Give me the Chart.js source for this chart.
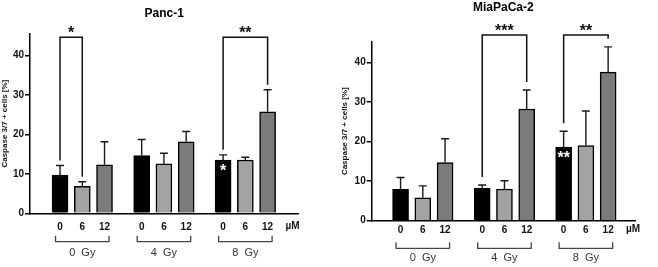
<!DOCTYPE html>
<html>
<head>
<meta charset="utf-8">
<script src="https://cdn.jsdelivr.net/npm/chart.js@4.4.1/dist/chart.umd.min.js"></script>
<style>
  html, body { margin: 0; padding: 0; background: #fff; }
  #wrap { width: 658px; height: 267px; display: flex; }
  canvas { display: block; }
</style>
</head>
<body>
<div id="wrap">
  <canvas id="panc1" width="329" height="267"></canvas>
  <canvas id="mia" width="329" height="267"></canvas>
</div>
<script>
var FONT = '"Liberation Sans", Arial, Helvetica, sans-serif';

// categories
var groups = ['0  Gy', '4  Gy', '8  Gy'];
var doses = ['0', '6', '12'];
var xPos = [0, 1, 2, 3.67, 4.67, 5.67, 7.33, 8.33, 9.33];
var yTicks = [0, 10, 20, 30, 40];

// Panc-1 (mean, SD) in group order 0/6/12 per Gy
var panc1Mean = [9.7, 6.8, 12.3, 14.6, 12.5, 18.1, 13.5, 13.5, 25.7];
var panc1Sd = [2.4, 1.2, 5.8, 4.1, 2.7, 2.6, 1.3, 0.7, 5.6];

// MiaPaCa-2
var miaMean = [7.9, 5.8, 14.7, 8.2, 8.0, 28.2, 18.6, 19.0, 37.5];
var miaSd = [3.0, 3.0, 6.0, 0.8, 2.1, 4.8, 4.0, 8.7, 6.4];

// significance: [from bar, to bar, label]
var panc1Sig = [[0, 1, '*'], [6, 8, '**']];
var miaSig = [[3, 5, '***'], [6, 8, '**']];
var panc1Inner = [[6, '*']];
var miaInner = [[6, '**']];

var barColors = ['#000000', '#a3a3a3', '#7b7b7b'];

var sigPlugin = {
    id: 'sigMarks',
    afterDatasetsDraw: function (chart, args, o) {
        var ctx = chart.ctx, xs = chart.scales.x, ys = chart.scales.y, area = chart.chartArea;
        var mean = o.mean, sd = o.sd;
        ctx.save();

        // error bars (upper only)
        ctx.strokeStyle = '#1a1a1a';
        ctx.lineWidth = 1.4;
        mean.forEach(function (m, i) {
            var x = xs.getPixelForValue(xPos[i]);
            var y0 = ys.getPixelForValue(m);
            var y1 = ys.getPixelForValue(m + sd[i]);
            ctx.beginPath();
            ctx.moveTo(x, y0);
            ctx.lineTo(x, y1);
            ctx.moveTo(x - 4, y1);
            ctx.lineTo(x + 4, y1);
            ctx.stroke();
        });

        // comparison brackets
        ctx.lineWidth = 1.5;
        ctx.strokeStyle = '#111';
        ctx.fillStyle = '#111';
        ctx.font = 'bold 16px ' + FONT;
        ctx.textAlign = 'center';
        ctx.textBaseline = 'alphabetic';
        var yTop = ys.getPixelForValue(o.sigTop);
        o.sig.forEach(function (s) {
            var xa = xs.getPixelForValue(xPos[s[0]]);
            var xb = xs.getPixelForValue(xPos[s[1]]);
            var ya = ys.getPixelForValue(mean[s[0]] + sd[s[0]]) - o.gap;
            var yb = ys.getPixelForValue(mean[s[1]] + sd[s[1]]) - o.gap;
            ctx.beginPath();
            ctx.moveTo(xa, ya);
            ctx.lineTo(xa, yTop);
            ctx.lineTo(xb, yTop);
            ctx.lineTo(xb, yb);
            ctx.stroke();
            ctx.fillText(s[2], (xa + xb) / 2, yTop + 1);
        });

        // stars inside bars
        ctx.fillStyle = '#fff';
        o.inner.forEach(function (s) {
            var x = xs.getPixelForValue(xPos[s[0]]);
            var y = ys.getPixelForValue(mean[s[0]]);
            ctx.fillText(s[1], x, y + 16);
        });

        // Gy group brackets under the axis
        ctx.strokeStyle = '#444';
        ctx.lineWidth = 1.3;
        ctx.fillStyle = '#333';
        ctx.font = '11px ' + FONT;
        ctx.textBaseline = 'middle';
        groups.forEach(function (g, k) {
            var x0 = xs.getPixelForValue(xPos[k * 3]) - 4.5;
            var x1 = xs.getPixelForValue(xPos[k * 3 + 2]) + 4.5;
            var yb = area.bottom + o.grpLine;
            ctx.beginPath();
            ctx.moveTo(x0, yb - 6);
            ctx.lineTo(x0, yb);
            ctx.lineTo(x1, yb);
            ctx.lineTo(x1, yb - 6);
            ctx.stroke();
            ctx.fillText(g, (x0 + x1) / 2, area.bottom + o.grpLabel);
        });

        // unit label
        ctx.fillStyle = '#111';
        ctx.font = 'bold 10px ' + FONT;
        ctx.textBaseline = 'top';
        ctx.fillText('\u00B5M', xs.getPixelForValue(xPos[8] + 1.12), area.bottom + o.tickPad);
        ctx.restore();
    }
};

function makeChart(id, title, mean, sd, sig, inner, L) {
    var datasets = doses.map(function (d, j) {
        return {
            label: d + ' \u00B5M',
            data: groups.map(function (g, k) { return { x: xPos[k * 3 + j], y: mean[k * 3 + j] }; }),
            backgroundColor: barColors[j],
            borderColor: '#000',
            borderWidth: 1.5,
            barThickness: 16,
            grouped: false
        };
    });

    return new Chart(document.getElementById(id), {
        type: 'bar',
        data: { datasets: datasets },
        options: {
            responsive: false,
            animation: false,
            layout: { padding: { left: 0, right: L.padRight, top: 0, bottom: 0 } },
            plugins: {
                legend: { display: false },
                tooltip: { enabled: false },
                title: {
                    display: true,
                    text: title,
                    fullSize: false,
                    color: '#000',
                    font: { family: FONT, size: 12, weight: 'bold' },
                    padding: { top: L.titleTop, bottom: L.titleBottom }
                },
                sigMarks: {
                    mean: mean, sd: sd, sig: sig, inner: inner,
                    sigTop: L.sigTop, gap: L.gap, grpLine: L.grpLine,
                    grpLabel: L.grpLabel, tickPad: L.tickPad
                }
            },
            scales: {
                x: {
                    type: 'linear',
                    min: L.xMin,
                    max: L.xMax,
                    grid: { display: false, drawTicks: false },
                    border: { color: '#000', width: 1.5 },
                    ticks: {
                        color: '#111',
                        font: { family: FONT, size: 10, weight: 'bold' },
                        padding: L.tickPad,
                        autoSkip: false,
                        maxRotation: 0,
                        callback: function (v, i) { return doses[i % 3]; }
                    },
                    afterBuildTicks: function (s) { s.ticks = xPos.map(function (v) { return { value: v }; }); },
                    afterFit: function (s) { s.height = L.xHeight; }
                },
                y: {
                    min: 0,
                    max: L.yMax,
                    grid: { drawOnChartArea: false, drawTicks: true, tickLength: 5, color: '#000', lineWidth: 1.5 },
                    border: { color: '#000', width: 1.5 },
                    ticks: {
                        color: '#111',
                        padding: 1,
                        font: { family: FONT, size: 10, weight: 'bold' }
                    },
                    title: {
                        display: true,
                        text: 'Caspase 3/7 + cells [%]',
                        color: '#111',
                        font: { family: FONT, size: 8, weight: 'bold' },
                        padding: { top: L.yTitlePad, bottom: 0 }
                    },
                    afterBuildTicks: function (s) { s.ticks = yTicks.map(function (v) { return { value: v }; }); },
                    afterFit: function (s) { s.width = L.yWidth; }
                }
            }
        },
        plugins: [sigPlugin]
    });
}

makeChart('panc1', 'Panc-1', panc1Mean, panc1Sd, panc1Sig, panc1Inner, {
    padRight: 30.7, titleTop: 6.8, titleBottom: 12.8, yWidth: 30, xHeight: 53.7,
    xMin: -0.68, xMax: 10.04, yMax: 45.4, tickPad: 8, yTitlePad: 0,
    sigTop: 44.6, gap: 5, grpLine: 28.4, grpLabel: 40
});

makeChart('mia', 'MiaPaCa-2', miaMean, miaSd, miaSig, miaInner, {
    padRight: 23, titleTop: 0.8, titleBottom: 26.5, yWidth: 42.7, xHeight: 46.3,
    xMin: -0.64, xMax: 9.88, yMax: 45.2, tickPad: 4, yTitlePad: 11.2,
    sigTop: 46.9, gap: 8, grpLine: 27.6, grpLabel: 37.6
});
</script>
</body>
</html>
